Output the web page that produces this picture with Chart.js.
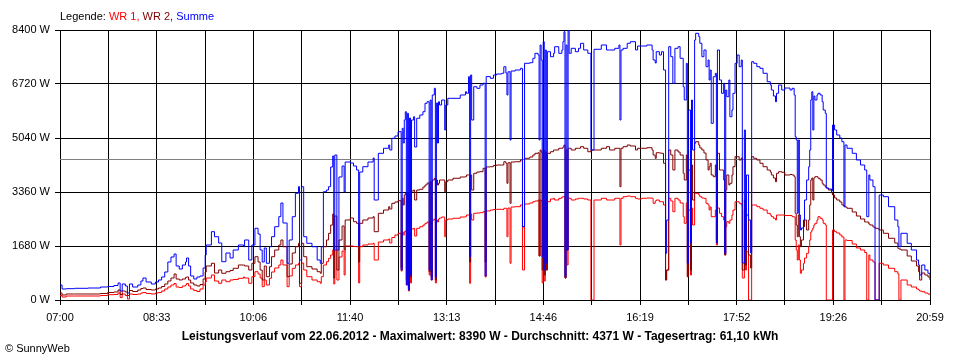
<!DOCTYPE html>
<html>
<head>
<meta charset="utf-8">
<script src="https://cdn.jsdelivr.net/npm/chart.js@4"></script>
<style>
body { margin: 0; background: #fff; }
#wrap { position: relative; width: 960px; height: 360px; font-family: "Liberation Sans", Arial, sans-serif; font-size: 11px; color: #000; }
#chart { position: absolute; left: 0; top: 0; display: block; }
.txt { position: absolute; white-space: nowrap; line-height: 13px; }
</style>
</head>
<body>
<div id="wrap">
<canvas id="chart" width="960" height="360"></canvas>
<div class="txt" style="left:60px;top:10px">Legende: <span style="color:#ff0000">WR 1,</span> <span style="color:#800000">WR 2,</span> <span style="color:#0000ff">Summe</span></div>
<div class="txt" style="left:0;width:960px;text-align:center;top:330px;font-weight:bold;font-size:12px">Leistungsverlauf vom 22.06.2012 - Maximalwert: 8390 W - Durchschnitt: 4371 W - Tagesertrag: 61,10 kWh</div>
<div class="txt" style="left:5px;top:342px">© SunnyWeb</div>
</div>
<script>
// Achse
const xTickLabels = ['07:00', '08:33', '10:06', '11:40', '13:13', '14:46', '16:19', '17:52', '19:26', '20:59'];
const yTickValues = [0, 1680, 3360, 5040, 6720, 8400];
const dayMinutes = 839; // 07:00 bis 20:59
const avgValue = 4371;  // Durchschnitt

// Minuten nach 07:00
const mins = [
  0,2,6,14,27,39,46,52,56,58,
  60,63,65,67,70,75,78,80,83,88,
  92,95,98,101,104,107,110,112,115,118,
  121,122,124,126,129,132,135,138,140,141,
  146,149,153,156,160,164,167,172,177,178,
  182,185,188,191,193,195,197,199,202,204,
  207,211,213,215,219,221,224,227,230,231,
  233,235,238,243,248,251,252,254,257,259,
  261,263,264,265,267,269,272,274,275,280,
  283,286,288,289,292,297,302,303,307,312,
  317,318,320,323,326,329,330,331,332,333,
  334,335,336,337,338,339,341,342,344,347,
  350,352,354,356,357,358,359,361,362,363,
  364,365,366,368,371,372,374,379,386,391,
  392,394,395,396,397,399,402,405,408,410,
  411,415,418,421,426,428,430,431,432,434,
  435,439,444,446,448,453,456,458,461,462,
  463,464,465,466,467,468,469,470,473,476,
  477,481,484,485,486,487,488,489,490,491,
  493,497,500,502,505,509,512,515,522,527,
  530,535,539,540,541,543,547,550,555,557,
  561,566,571,572,574,575,578,580,582,584,
  585,587,589,591,593,596,598,601,602,604,
  605,606,608,609,610,612,613,616,617,619,
  621,623,625,626,627,628,630,632,633,634,
  636,638,640,641,642,643,645,646,648,649,
  651,653,655,657,658,660,661,662,664,666,
  667,669,672,675,678,682,685,686,688,690,
  691,693,696,699,704,706,708,709,710,711,
  712,713,714,715,717,718,720,722,723,724,
  725,726,727,728,730,731,733,735,736,738,
  739,741,744,745,747,749,752,754,756,757,
  759,764,768,772,776,778,780,781,784,786,
  789,790,794,799,805,808,809,811,817,821,
  826,828,829,831,834,837,839
];

// Summe (W)
const summe = [
  467,342,352,364,373,404,420,451,529,280,
  498,436,218,498,404,467,591,684,560,498,
  560,622,716,871,1182,1338,1431,1058,964,1089,
  1182,1307,1058,747,653,716,747,996,1400,1711,
  2125,1969,1773,1192,1462,1307,1556,1711,1658,1867,
  1244,1711,2231,2053,1556,1182,1618,1142,1658,1969,
  2280,2592,3018,2396,1142,1867,2592,3320,3525,1244,
  3525,1969,1764,1658,1244,1142,1658,3369,3422,3525,
  4138,4480,1556,4511,1556,3827,4169,3360,4293,4262,
  4169,4044,1680,3982,4147,4293,4418,3111,4564,4720,
  4822,4667,5031,5102,5236,933,5342,4884,5600,5858,
  467,5808,311,5662,778,5600,5702,4760,5653,5756,
  5858,6120,6169,933,6222,622,6378,6587,716,6129,
  4884,6169,6067,6222,5289,6067,6275,6275,6378,6480,
  6431,6947,1347,7000,5600,6636,6586,6689,6742,747,
  6950,6897,7000,7031,7053,7258,7062,6378,7100,4978,
  7124,7156,7208,2280,7364,7383,7520,7675,7622,4978,
  7933,7467,1338,8036,933,7778,1151,7725,7569,7675,
  7880,7675,7778,8036,8347,725,7933,1556,8390,7675,
  7830,7725,7830,7986,7778,7675,4667,7800,7933,7778,
  7778,7830,7933,5600,7778,7830,7986,8036,7778,7902,
  7902,7933,7778,7467,7373,7725,7622,7725,7156,1453,
  2489,7880,7569,6742,7830,7880,7520,6636,6222,7364,
  1142,5911,1773,6222,4667,8089,8297,8193,7986,7569,
  7778,7258,7467,6844,7156,5497,6947,7053,1773,7778,
  6844,6431,6742,1453,6533,6325,6844,5702,5911,6431,
  7364,7622,7258,7467,1151,5289,1556,3889,2489,1462,
  7413,7364,7258,7208,7053,6791,6689,6533,6347,6169,
  6431,6689,6533,6595,6533,6586,6378,5080,4978,2697,
  4978,2644,2178,2240,2489,3111,3733,4147,4667,6222,
  6480,5289,6347,6222,6378,6431,6378,6169,5911,5808,
  3484,3453,3391,5444,5289,5133,5040,4925,2903,4822,
  4720,4564,4356,4200,4044,2592,3889,3733,3524,0,
  0,3267,3214,2903,2489,2280,1658,2075,1764,1556,
  1244,1089,778,1089,933,831,725
];

// WR 2 (W)
const wr2 = [
  218,156,187,187,187,202,233,249,311,171,
  280,249,140,295,264,311,358,373,327,311,
  342,373,420,498,591,684,809,653,622,653,
  700,716,622,529,467,436,482,653,871,1058,
  1142,840,933,831,880,918,986,1089,1089,1058,
  933,1142,1347,1182,933,622,1058,725,1036,1347,
  1556,1711,1867,1658,725,1120,1462,1658,1764,520,
  1764,1347,1036,964,880,831,1142,1658,1867,2075,
  2333,2675,684,2613,933,1867,2302,1556,2489,2551,
  2436,2386,1182,2386,2489,2551,2592,2125,2697,2800,
  2903,2831,3008,3049,3089,1000,3164,2956,3267,3320,
  622,3320,373,3360,716,3391,3422,3111,3422,3444,
  3516,3578,3640,871,3680,716,3733,3787,622,3733,
  3578,3631,3733,3733,3369,3680,3733,3787,3827,3836,
  3889,3889,1182,3889,3422,3942,3982,3992,4097,1182,
  4140,4147,4184,4200,4200,4302,4253,3631,4270,3008,
  4293,4302,4356,2280,4408,4449,4511,4564,4582,1369,
  4667,4604,933,4667,778,4604,933,4564,4613,4667,
  4667,4720,4720,4760,4822,684,4667,1556,4720,4720,
  4667,4720,4720,4770,4720,4613,4667,4667,4720,4770,
  4667,4720,4720,3524,4720,4770,4822,4791,4667,4720,
  4720,4738,4667,4511,4408,4582,4573,4564,4253,622,
  933,4667,4511,4044,4667,4604,4511,3942,3733,4511,
  725,4044,933,4200,3111,4875,4925,4822,4729,4667,
  4573,4356,4044,4147,4253,3889,3836,4200,1867,4564,
  4044,4044,3733,1400,3422,3889,3578,3631,3889,4147,
  4458,4458,4356,4418,933,3111,1089,2644,1400,996,
  4458,4408,4356,4253,4147,4044,3982,3889,3796,3680,
  3942,3992,3973,3889,3904,3889,3836,2697,2333,1969,
  2644,1969,1658,1867,2280,2489,2178,2489,2956,3733,
  3796,3111,3796,3836,3836,3787,3733,3631,3578,3516,
  3484,3422,3329,3267,3173,3111,3049,2956,2924,2893,
  2853,2738,2613,2520,2427,2427,2364,2333,2271,2231,
  2209,2178,2075,1920,1773,1608,1587,1556,1369,1213,
  1058,880,622,840,778,716,622
];

// WR 1 (W)
const wr1 = [
  140,93,124,124,124,140,165,171,218,78,
  187,140,31,187,171,187,218,233,202,187,
  218,233,280,342,404,467,513,404,389,436,
  467,513,436,342,296,264,342,467,560,684,
  778,591,520,622,569,622,638,675,716,684,
  520,725,880,809,684,414,622,467,675,871,
  996,1089,1244,1089,414,747,986,1089,1142,414,
  1151,933,725,622,569,520,725,1089,1192,1297,
  1400,1556,498,1556,622,1338,1524,778,1680,1680,
  1664,1658,529,1658,1711,1742,1764,1244,1804,1867,
  1898,1773,1944,2022,2075,900,2115,2022,2125,2147,
  467,2178,280,2178,529,2209,2231,1991,2231,2280,
  2333,2386,2427,778,2436,622,2489,2520,529,2489,
  2427,2520,2551,2582,1969,2489,2520,2542,2582,2592,
  2644,2644,520,2675,2489,2697,2707,2716,2747,716,
  2770,2800,2816,2822,2816,2853,2853,1969,2860,1142,
  2893,2903,2956,933,2987,3018,3058,3080,3111,1369,
  3111,3080,529,3111,591,3080,933,3058,3142,3164,
  3111,3164,3204,3214,3214,684,3111,1089,3173,3164,
  3111,3142,3164,3164,3142,3111,0,3111,3164,3111,
  3111,3164,3164,1711,3164,3214,3236,3214,3164,3142,
  3164,3173,3164,3008,3080,3111,3058,3058,2956,622,
  933,3164,3080,2747,3164,3111,3018,2592,2386,3018,
  725,2800,778,2862,2333,3320,3320,3267,3214,3173,
  3164,3008,2956,2800,2893,2592,2592,2800,1711,2862,
  2697,2592,2489,1400,2280,2436,2386,2489,2644,2800,
  3058,3058,3008,2956,684,2800,933,1500,0,0,
  2956,2956,2903,2853,2800,2697,2644,2592,2542,2489,
  2644,2644,2644,2629,2629,2592,2582,1867,1556,1244,
  1711,1244,831,933,1142,1307,1453,1658,1867,2115,
  2178,2240,2333,2386,2489,2592,2542,2489,2386,2333,
  0,0,0,2178,2125,2084,2022,1960,0,1867,
  1851,1742,1618,1556,1478,0,1400,1244,1182,0,
  0,1142,1089,986,880,809,0,622,467,404,
  342,311,280,258,218,187,156
];

function points(values) {
  return mins.map((m, i) => ({ x: m, y: values[i] }));
}

Chart.defaults.font.family = '"Liberation Sans", Arial, sans-serif';
Chart.defaults.font.size = 11;
Chart.defaults.color = '#000';

const ctx = document.getElementById('chart');
new Chart(ctx, {
  type: 'line',
  data: {
    datasets: [
      { label: 'Summe', data: points(summe), borderColor: '#0000ff', order: 0 },
      { label: 'WR 2', data: points(wr2), borderColor: '#800000', order: 1 },
      { label: 'WR 1', data: points(wr1), borderColor: '#ff0000', order: 2 },
      { label: 'Durchschnitt', data: [{ x: 0, y: avgValue }, { x: dayMinutes, y: avgValue }],
        borderColor: '#808080', stepped: false, order: 3 }
    ]
  },
  options: {
    responsive: false,
    devicePixelRatio: 1,
    animation: false,
    layout: { padding: { top: 30, right: 30, left: 0, bottom: 0 } },
    elements: {
      point: { radius: 0 },
      line: { borderWidth: 1, stepped: true, tension: 0 }
    },
    plugins: { legend: { display: false }, tooltip: { enabled: false } },
    scales: {
      x: {
        type: 'linear',
        min: 0,
        max: dayMinutes,
        afterFit: (scale) => { scale.height = 60; },
        afterBuildTicks: (scale) => {
          scale.ticks = [];
          for (let i = 0; i <= 18; i++) scale.ticks.push({ value: i * dayMinutes / 18 });
        },
        ticks: {
          autoSkip: false,
          maxRotation: 0,
          padding: 6,
          callback: (v, i) => (i % 2 ? '' : xTickLabels[i / 2])
        },
        grid: { color: '#000', tickLength: 5 },
        border: { color: '#000' }
      },
      y: {
        min: 0,
        max: 8400,
        afterFit: (scale) => { scale.width = 60; },
        afterBuildTicks: (scale) => {
          scale.ticks = yTickValues.map(v => ({ value: v }));
        },
        ticks: { padding: 5, callback: (v) => v + ' W' },
        grid: { color: '#000', tickLength: 5 },
        border: { color: '#000' }
      }
    }
  }
});
</script>
</body>
</html>
